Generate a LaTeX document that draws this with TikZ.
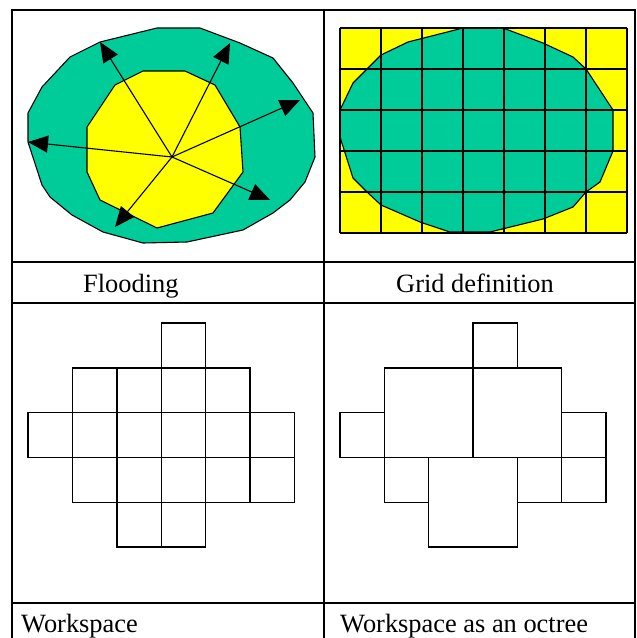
\documentclass[tikz,border=0pt]{standalone}
\usepackage{fontspec}
\setmainfont{Liberation Serif}
\usetikzlibrary{arrows.meta}
\definecolor{sea}{HTML}{00CC99}
\definecolor{lemon}{HTML}{FFFF00}
\tikzset{
  frame/.style={line width=2pt},
  outline/.style={draw=black,line width=1.1pt,line join=round},
  cell/.style={draw=black,line width=1.4pt},
  ray/.style={line width=1.1pt,-{Triangle[length=20pt,width=17pt]}},
  caption/.style={anchor=base west,inner sep=0pt,font=\fontsize{26.4}{30}\selectfont}
}
\begin{document}
\begin{tikzpicture}[x=1pt,y=-1pt]
\useasboundingbox (0,0) rectangle (637,638);
\draw[outline,fill=sea] (100,42)--(157,28)--(200,28)--(240,43)--(273,58)--(293,83)--(313,113)--(315,157)--(305,182)--(290,200)--(273,213)--(243,230)--(187,242)--(143,243)--(103,232)--(72,215)--(50,197)--(42,185)--(28,142)--(28,113)--(42,87)--(70,57)--cycle;
\draw[outline,fill=lemon] (143,71)--(185,71)--(215,85)--(240,127)--(243,172)--(232,187)--(213,213)--(157,228)--(100,200)--(87,172)--(87,127)--(115,85)--cycle;
\coordinate (ctr) at (172,157);
\coordinate (a1) at (100,42);
\coordinate (a2) at (230,43);
\coordinate (a3) at (300,100);
\coordinate (a4) at (28,142);
\coordinate (a5) at (270,200);
\coordinate (a6) at (115,227);
\foreach \n in {a1,a2,a3,a4,a5,a6}{\draw[ray] (ctr) -- (\n);}
\draw[fill=lemon,draw=none] (340,28) rectangle (627,233);
\draw[outline,fill=sea] (463,28)--(503,28)--(543,43)--(573,57)--(586,69)--(613,110)--(613,151)--(600,182)--(586,192)--(573,207)--(543,219)--(490,232)--(450,232)--(420,222)--(381,205)--(367,192)--(353,178)--(340,137)--(340,110)--(353,83)--(368,68)--(381,55)--(408,42)--cycle;
\foreach \i in {0,...,7}{\draw[cell] (340+41*\i,28) -- (340+41*\i,233);}
\foreach \j in {0,...,5}{\draw[cell] (340,28+41*\j) -- (627,28+41*\j);}
\foreach \c/\r in {3/0,1/1,2/1,3/1,4/1,0/2,1/2,2/2,3/2,4/2,5/2,1/3,2/3,3/3,4/3,5/3,2/4,3/4}{
  \draw[cell] (28+44.4*\c,323+44.8*\r) rectangle ++(44.4,44.8);
}
\foreach \c/\r/\s in {3/0/1,1/1/2,3/1/2,0/2/1,5/2/1,1/3/1,2/3/2,4/3/1,5/3/1}{
  \draw[cell] (340+44.3*\c,323+44.8*\r) rectangle ++(44.3*\s,44.8*\s);
}
\draw[frame] (12,638) -- (12,10) -- (634.5,10) -- (634.5,638);
\draw[frame] (324,10) -- (324,638);
\foreach \y in {262,303,603}{\draw[frame] (12,\y) -- (634.5,\y);}
\node[caption] (flood) at (83,292) {Flooding};
\node[caption] (griddef) at (396,292) {Grid definition};
\node[caption] (work) at (21,632) {Workspace};
\node[caption] (octree) at (340,632) {Workspace as an octree};
\end{tikzpicture}
\end{document}
